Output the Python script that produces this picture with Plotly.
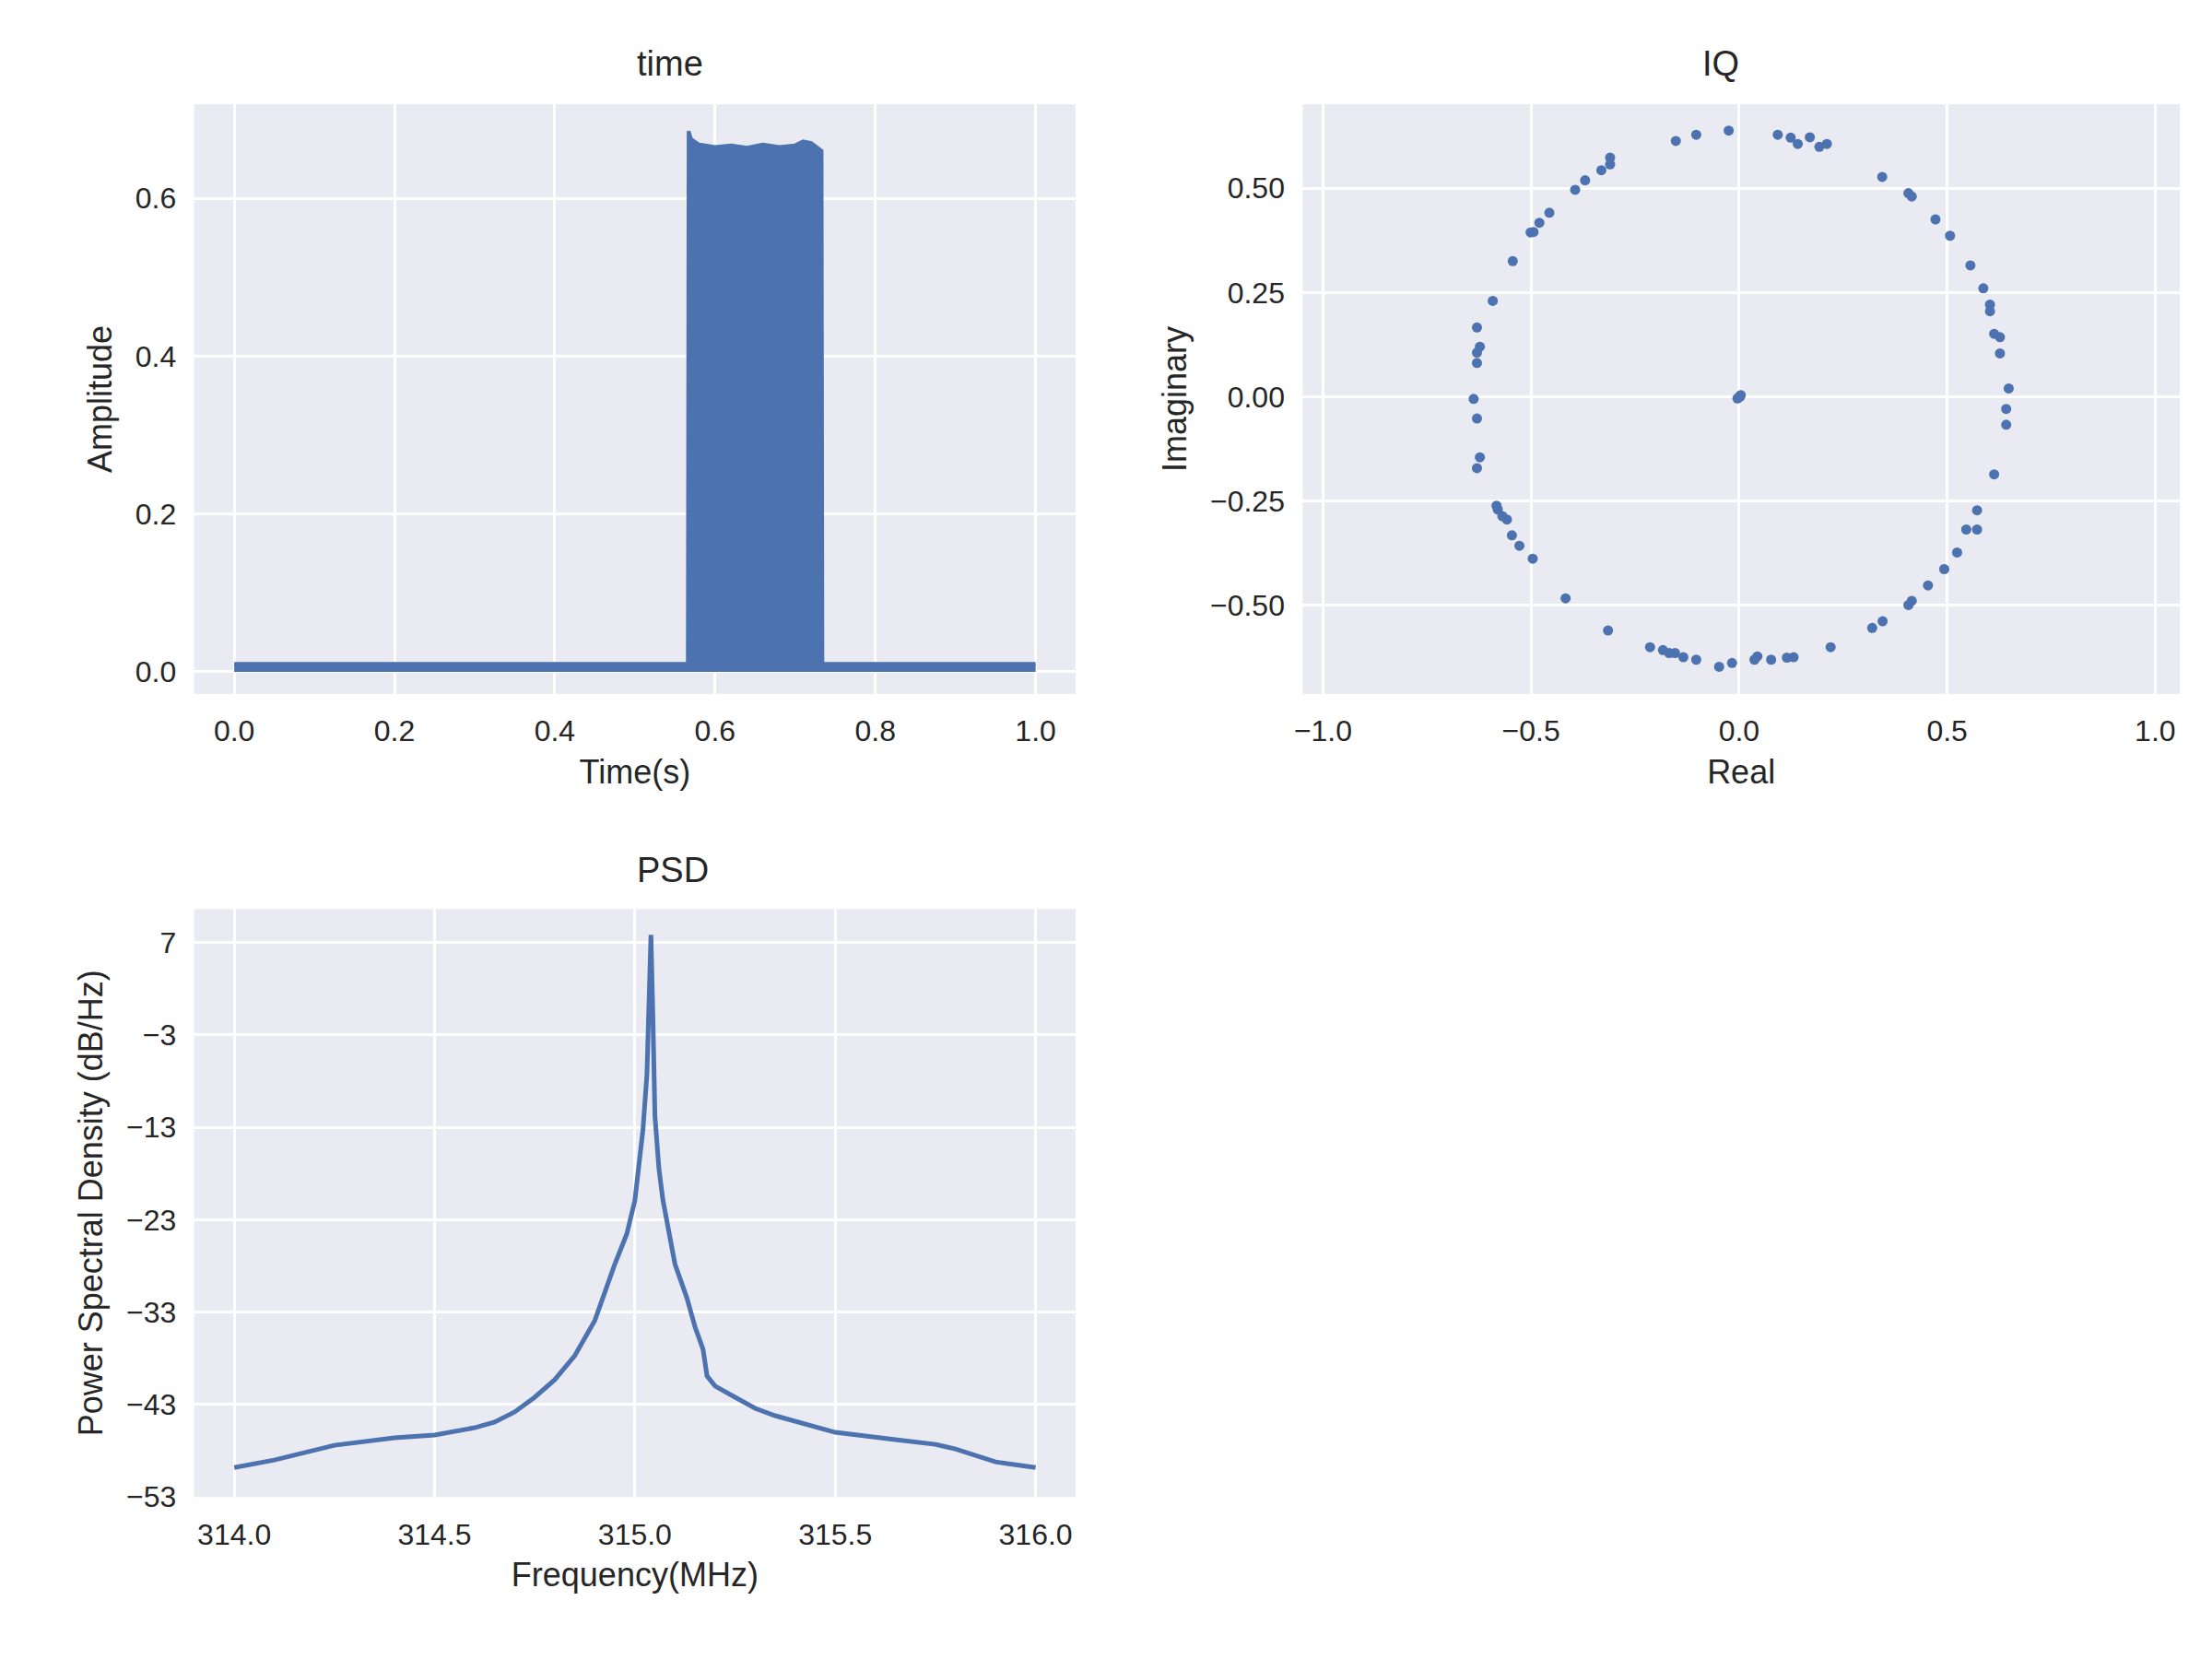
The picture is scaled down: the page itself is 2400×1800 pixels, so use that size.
import plotly.graph_objects as go

# time-domain envelope (seconds, amplitude)
time_s = [0.0, 0.566, 0.567, 0.570, 0.58, 0.60, 0.62, 0.64, 0.66, 0.68, 0.70, 0.71, 0.72, 0.733, 0.734, 0.735, 1.0]
time_amp = [0.01, 0.01, 0.685, 0.675, 0.668, 0.665, 0.667, 0.664, 0.668, 0.665, 0.667, 0.672, 0.670, 0.66, 0.01, 0.01, 0.01]

# IQ constellation
iq_real = [-0.152, -0.103, -0.025, 0.093, 0.124, 0.141, 0.170, 0.193, 0.211, 0.344, 0.407, 0.415,
           0.472, 0.507, 0.556, 0.587, 0.603, 0.603, 0.613, 0.627, 0.627, 0.648, 0.642, 0.642,
           0.613, 0.572, 0.546, 0.572, 0.524, 0.493, 0.454, 0.415, 0.407, 0.345, 0.320, 0.220,
           0.131, 0.115, 0.077, 0.044, 0.037, -0.017, -0.048, -0.103, -0.134, -0.154, -0.168,
           -0.183, -0.214, -0.315, -0.417, -0.496, -0.528, -0.546, -0.558, -0.569, -0.580, -0.583,
           -0.630, -0.623, -0.630, -0.638, -0.630, -0.630, -0.623, -0.630, -0.592, -0.544, -0.501,
           -0.494, -0.480, -0.456, -0.394, -0.370, -0.331, -0.310, -0.310, 0.0, 0.004, -0.004, 0.002]
iq_imag = [0.613, 0.628, 0.638, 0.628, 0.621, 0.606, 0.622, 0.599, 0.606, 0.527, 0.488, 0.480,
           0.425, 0.386, 0.315, 0.260, 0.221, 0.205, 0.151, 0.143, 0.104, 0.020, -0.029, -0.067,
           -0.186, -0.272, -0.318, -0.318, -0.373, -0.413, -0.452, -0.489, -0.499, -0.538, -0.554, -0.600,
           -0.624, -0.625, -0.630, -0.622, -0.630, -0.638, -0.647, -0.630, -0.624, -0.614, -0.614,
           -0.607, -0.600, -0.560, -0.483, -0.388, -0.357, -0.332, -0.294, -0.286, -0.270, -0.261,
           -0.171, -0.145, -0.052, -0.005, 0.081, 0.106, 0.120, 0.166, 0.230, 0.325, 0.394,
           0.395, 0.417, 0.441, 0.496, 0.519, 0.543, 0.557, 0.573, 0.0, 0.004, -0.004, 0.0]

# power spectral density
psd_freq = [314.0, 314.1, 314.25, 314.4, 314.5, 314.6, 314.65, 314.7, 314.75, 314.8, 314.85, 314.9,
            314.95, 314.98, 315.0, 315.02, 315.03, 315.035, 315.04, 315.045, 315.05, 315.06, 315.07,
            315.1, 315.13, 315.15, 315.17, 315.18, 315.2, 315.25, 315.3, 315.35, 315.5, 315.65,
            315.75, 315.8, 315.9, 315.95, 316.0]
psd_db = [-49.8, -49.0, -47.4, -46.6, -46.3, -45.5, -44.9, -43.8, -42.2, -40.3, -37.7, -33.9,
          -27.8, -24.5, -20.9, -13.3, -7.3, 1.9, 7.8, -1.2, -11.8, -17.5, -20.9,
          -27.8, -31.5, -34.6, -37.0, -39.9, -41.0, -42.2, -43.4, -44.2, -46.0, -46.8,
          -47.3, -47.8, -49.2, -49.5, -49.8]

BLUE = "#4C72B0"
BG = "#EAEAF2"
FONT = "Liberation Sans"
TXT = "#262626"

fig = go.Figure()
fig.add_trace(go.Scatter(x=time_s, y=time_amp, mode="lines", fill="tozeroy", fillcolor=BLUE,
                         line=dict(color=BLUE, width=4), xaxis="x", yaxis="y", showlegend=False))
fig.add_trace(go.Scatter(x=iq_real, y=iq_imag, mode="markers", marker=dict(color=BLUE, size=11),
                         xaxis="x2", yaxis="y2", showlegend=False))
fig.add_trace(go.Scatter(x=psd_freq, y=psd_db, mode="lines", line=dict(color=BLUE, width=5),
                         xaxis="x3", yaxis="y3", showlegend=False))

ax = dict(showgrid=True, gridcolor="white", gridwidth=2.5, zeroline=False, showline=False,
          ticks="outside", ticklen=12, tickcolor="rgba(0,0,0,0)",
          tickfont=dict(size=32, color=TXT), title_font=dict(size=36, color=TXT),
          title_standoff=14)

fig.update_layout(
    width=2400, height=1800, paper_bgcolor="white", plot_bgcolor=BG,
    font=dict(family=FONT, color=TXT),
    margin=dict(l=0, r=0, t=0, b=0),
    xaxis=dict(ax, domain=[0.081, 0.481], anchor="y", range=[-0.05, 1.05], dtick=0.2,
               tickformat=".1f", title_text="Time(s)"),
    yaxis=dict(ax, domain=[0.582, 0.941], anchor="x", range=[-0.028, 0.719], dtick=0.2,
               tickformat=".1f", title_text="Amplitude"),
    xaxis2=dict(ax, domain=[0.584, 0.982], anchor="y2", range=[-1.049, 1.059], dtick=0.5,
                tickformat=".1f", title_text="Real"),
    yaxis2=dict(ax, domain=[0.582, 0.941], anchor="x2", range=[-0.712, 0.701], dtick=0.25,
                tickformat=".2f", title_text="Imaginary"),
    xaxis3=dict(ax, domain=[0.081, 0.481], anchor="y3", range=[313.9, 316.1], dtick=0.5,
                tickformat=".1f", title_text="Frequency(MHz)"),
    yaxis3=dict(ax, domain=[0.093, 0.451], anchor="x3", range=[-53, 10.6], tick0=-53, dtick=10,
                title_text="Power Spectral Density (dB/Hz)"),
    annotations=[
        dict(text="time", x=0.281, y=0.953, xref="paper", yref="paper", showarrow=False,
             yanchor="bottom", font=dict(size=38)),
        dict(text="IQ", x=0.783, y=0.953, xref="paper", yref="paper", showarrow=False,
             yanchor="bottom", font=dict(size=38)),
        dict(text="PSD", x=0.281, y=0.462, xref="paper", yref="paper", showarrow=False,
             yanchor="bottom", font=dict(size=38)),
    ],
)

fig.write_html("out.html")
